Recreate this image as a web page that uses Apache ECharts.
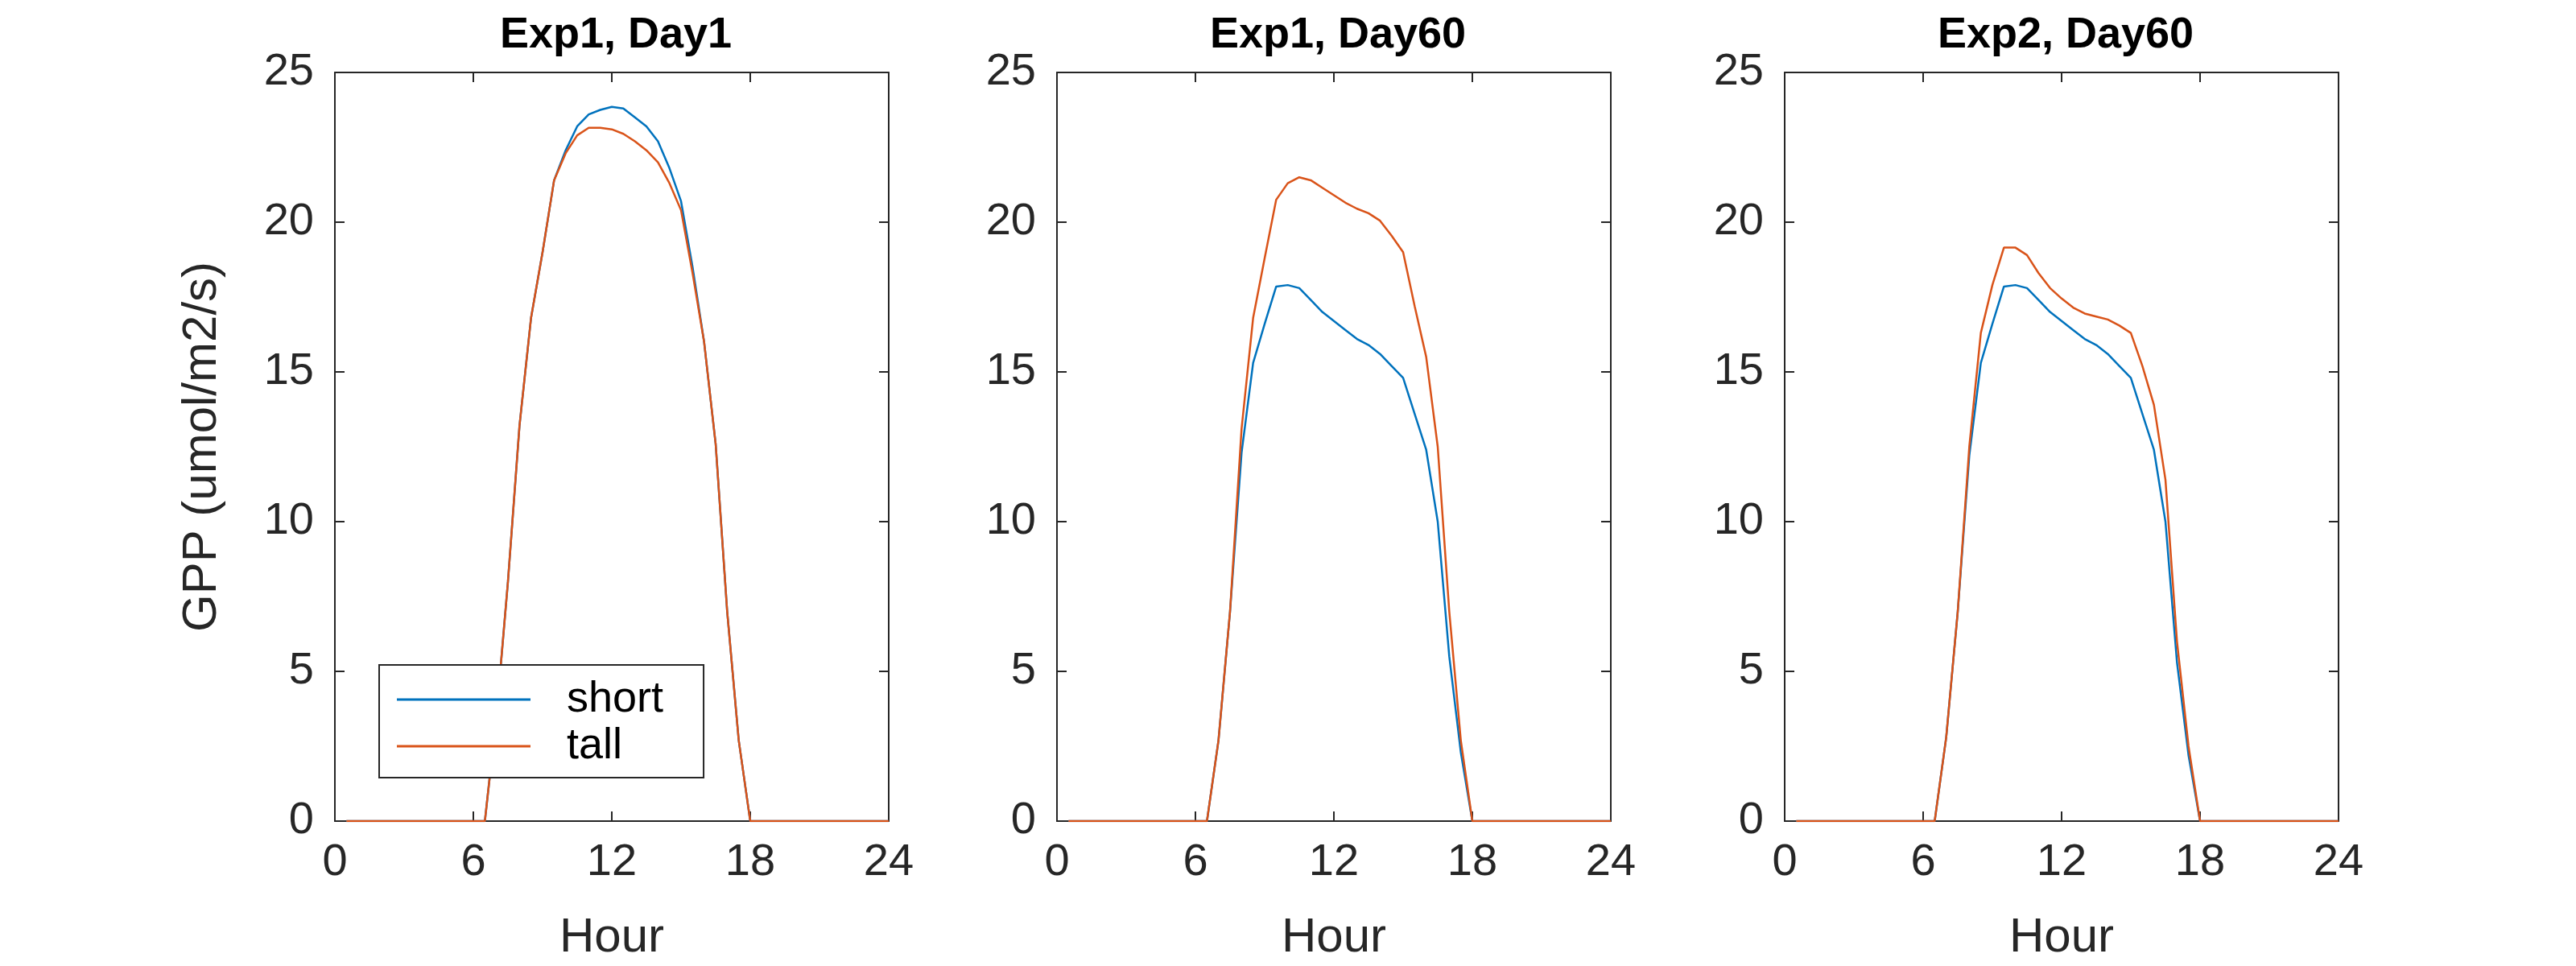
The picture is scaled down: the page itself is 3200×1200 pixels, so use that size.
<!DOCTYPE html>
<html><head><meta charset="utf-8">
<script src="https://cdn.jsdelivr.net/npm/echarts@6/dist/echarts.min.js"></script>
<style>html,body{margin:0;background:#fff}#c{width:3200px;height:1200px}</style>
</head><body><div id="c"></div>
<script>
const hours = [0.5,1,1.5,2,2.5,3,3.5,4,4.5,5,5.5,6,6.5,7,7.5,8,8.5,9,9.5,10,10.5,11,11.5,12,12.5,13,13.5,14,14.5,15,15.5,16,16.5,17,17.5,18,18.5,19,19.5,20,20.5,21,21.5,22,22.5,23,23.5,24];
const night1 = [0,0,0,0,0,0,0,0,0,0,0,0,0];
const night2 = [0,0,0,0,0,0,0,0,0,0,0,0];
// day values, hours 7.0 .. 18.0
const e1d1Short = [3.5,8,13.2,16.8,19,21.4,22.4,23.2,23.6,23.75,23.85,23.8,23.5,23.2,22.7,21.8,20.7,18.5,16,12.6,7,2.7,0];
const e1d1Tall  = [3.5,8,13.2,16.8,19,21.4,22.3,22.9,23.15,23.15,23.1,22.95,22.7,22.4,22.0,21.3,20.4,18.3,16,12.6,7,2.7,0];
const e1d60Short= [2.7,7,12.3,15.3,16.6,17.85,17.9,17.8,17.4,17.0,16.7,16.4,16.1,15.9,15.6,15.2,14.8,13.6,12.4,10,5.5,2.3,0];
const e1d60Tall = [2.7,7,13.1,16.8,18.8,20.75,21.3,21.5,21.4,21.15,20.9,20.65,20.45,20.3,20.05,19.55,19.0,17.2,15.5,12.5,7,2.7,0];
const e2d60Short= [2.8,7,12.2,15.3,16.6,17.85,17.9,17.8,17.4,17.0,16.7,16.4,16.1,15.9,15.6,15.2,14.8,13.6,12.4,10,5.3,2.2,0];
const e2d60Tall = [2.8,7,12.5,16.3,17.9,19.15,19.15,18.9,18.3,17.8,17.45,17.15,16.95,16.85,16.75,16.55,16.3,15.2,13.9,11.4,6,2.5,0];
const titles = ['Exp1, Day1','Exp1, Day60','Exp2, Day60'];
const xTicks = [0,6,12,18,24];
const panels = [[e1d1Short,e1d1Tall],[e1d60Short,e1d60Tall],[e2d60Short,e2d60Tall]];
const full = d => night1.concat(d, night2).map((v,i)=>[hours[i],v]);
const lefts=[416,1313,2217], W=688, TOP=90, H=943;
const F='"Liberation Sans", Arial, sans-serif', C='#262626';
const grid=[],xAxis=[],yAxis=[],series=[],title=[];
const tick={show:true,inside:true,length:12,lineStyle:{color:C,width:2}};
const line={show:true,onZero:false,lineStyle:{color:C,width:2}};
panels.forEach((p,i)=>{
  grid.push({left:lefts[i],top:TOP,width:W,height:H});
  title.push({text:titles[i],left:lefts[i]+W/2,top:12,textAlign:'center',textStyle:{fontFamily:F,fontWeight:'bold',fontSize:54,color:'#000'}});
  xAxis.push({type:'value',gridIndex:i,min:0,max:24,interval:6,position:'bottom',splitLine:{show:false},axisLine:line,axisTick:tick,
    name:'Hour',nameLocation:'middle',nameGap:115,nameTextStyle:{fontFamily:F,fontSize:60,color:C},
    axisLabel:{fontFamily:F,fontSize:56,color:C,margin:24}});
  xAxis.push({type:'value',gridIndex:i,min:0,max:24,interval:6,position:'top',splitLine:{show:false},axisLine:line,axisTick:tick,axisLabel:{show:false}});
  yAxis.push({type:'value',gridIndex:i,min:0,max:25,interval:5,position:'left',splitLine:{show:false},axisLine:line,axisTick:tick,
    axisLabel:{fontFamily:F,fontSize:56,color:C,margin:26},
    name:i===0?'GPP (umol/m2/s)':'',nameLocation:'middle',nameGap:135,nameTextStyle:{fontFamily:F,fontSize:60,color:C}});
  yAxis.push({type:'value',gridIndex:i,min:0,max:25,interval:5,position:'right',splitLine:{show:false},axisLine:line,axisTick:tick,axisLabel:{show:false}});
  series.push({name:'short',type:'line',xAxisIndex:2*i,yAxisIndex:2*i,data:full(p[0]),showSymbol:false,lineStyle:{width:2.5,color:'#0072BD'},itemStyle:{color:'#0072BD'}});
  series.push({name:'tall',type:'line',xAxisIndex:2*i,yAxisIndex:2*i,data:full(p[1]),showSymbol:false,lineStyle:{width:2.5,color:'#D95319'},itemStyle:{color:'#D95319'}});
});
const chart=echarts.init(document.getElementById('c'));
chart.setOption({animation:false,title,grid,xAxis,yAxis,series,
  legend:{data:['short','tall'],orient:'vertical',left:471,top:826,padding:[16,50,12,22],itemGap:4,
    backgroundColor:'#fff',borderColor:C,borderWidth:2,itemWidth:166,itemHeight:3,icon:'rect',
    textStyle:{fontFamily:F,fontSize:54,color:'#000',padding:[0,0,0,40]}}});
</script></body></html>
